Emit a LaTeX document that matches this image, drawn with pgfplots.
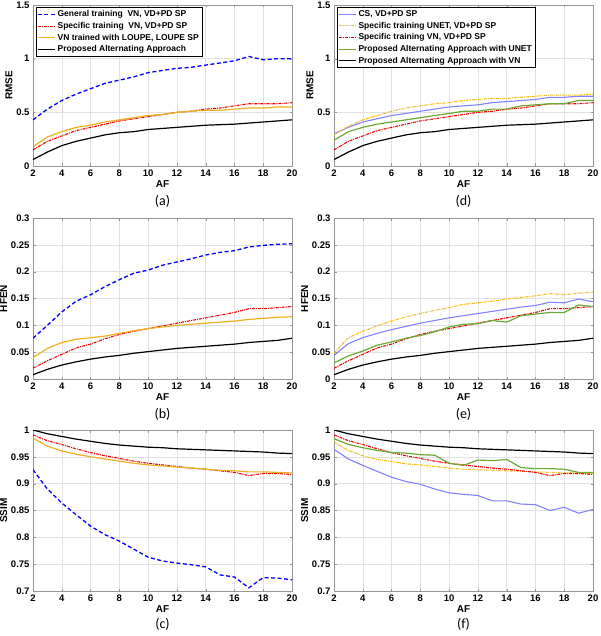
\documentclass[border=0pt]{standalone}
\usepackage{fontspec}
\setmainfont{Liberation Sans}
\newfontfamily\capfont{Carlito}
\usepackage{pgfplots}
\usepackage{pgfplotstable}
\pgfplotsset{compat=1.18}

\definecolor{cgen}{RGB}{0,0,255}
\definecolor{cspec}{RGB}{240,0,0}
\definecolor{cloupe}{RGB}{237,177,32}
\definecolor{cunet}{RGB}{240,190,40}
\definecolor{cgreen}{RGB}{110,170,50}
\definecolor{ccs}{RGB}{130,130,255}
\definecolor{cgrid}{RGB}{225,225,225}
\definecolor{cbox}{RGB}{150,150,150}

% columns: gen = general training VN, spec = specific training VN, loupe = LOUPE,
% prop = proposed (VN), cs = CS, unet = specific training UNET, propu = proposed with UNET
\pgfplotstableread{
x  gen   spec  loupe prop  cs    unet  propu
2  0.43  0.15  0.18  0.06  0.30  0.29  0.24
3  0.53  0.23  0.27  0.13  0.36  0.37  0.32
4  0.61  0.28  0.32  0.19  0.41  0.43  0.36
5  0.67  0.33  0.36  0.23  0.44  0.47  0.39
6  0.72  0.36  0.38  0.26  0.47  0.51  0.41
7  0.77  0.39  0.41  0.29  0.49  0.54  0.43
8  0.80  0.42  0.43  0.31  0.51  0.56  0.45
9  0.83  0.44  0.45  0.32  0.53  0.58  0.47
10 0.87  0.46  0.47  0.34  0.55  0.59  0.49
11 0.89  0.48  0.48  0.35  0.56  0.61  0.51
12 0.91  0.50  0.50  0.36  0.57  0.62  0.51
13 0.92  0.51  0.51  0.37  0.59  0.63  0.53
14 0.94  0.53  0.52  0.38  0.60  0.63  0.53
15 0.96  0.54  0.52  0.385 0.61  0.64  0.56
16 0.98  0.56  0.53  0.39  0.62  0.65  0.57
17 1.02  0.58  0.54  0.40  0.64  0.66  0.58
18 0.99  0.58  0.54  0.41  0.64  0.66  0.58
19 1.00  0.58  0.55  0.42  0.65  0.66  0.61
20 1.00  0.59  0.55  0.43  0.65  0.67  0.61
}\rmse

\pgfplotstableread{
x  gen   spec  loupe prop  cs    unet  propu
2  0.076 0.020 0.040 0.008 0.044 0.048 0.030
3  0.100 0.034 0.057 0.018 0.066 0.077 0.043
4  0.125 0.046 0.068 0.026 0.077 0.089 0.052
5  0.145 0.058 0.074 0.032 0.085 0.099 0.063
6  0.157 0.065 0.077 0.037 0.092 0.108 0.069
7  0.172 0.075 0.080 0.041 0.098 0.116 0.076
8  0.185 0.083 0.085 0.044 0.104 0.122 0.081
9  0.197 0.089 0.090 0.048 0.109 0.128 0.088
10 0.203 0.094 0.094 0.051 0.114 0.133 0.097
11 0.212 0.099 0.097 0.054 0.118 0.139 0.102
12 0.218 0.104 0.100 0.057 0.122 0.142 0.103
13 0.224 0.109 0.102 0.059 0.126 0.145 0.109
14 0.231 0.114 0.104 0.061 0.130 0.149 0.106
15 0.236 0.119 0.106 0.063 0.134 0.152 0.118
16 0.239 0.124 0.108 0.065 0.137 0.155 0.121
17 0.246 0.131 0.111 0.068 0.143 0.159 0.124
18 0.249 0.131 0.113 0.070 0.142 0.157 0.124
19 0.251 0.133 0.115 0.072 0.149 0.160 0.138
20 0.252 0.135 0.116 0.076 0.144 0.162 0.135
}\hfen

\pgfplotstableread{
x  gen   spec  loupe prop  cs    unet  propu
2  0.926 0.991 0.985 1.000 0.964 0.978 0.984
3  0.890 0.980 0.970 0.993 0.946 0.962 0.973
4  0.864 0.973 0.961 0.988 0.934 0.952 0.967
5  0.842 0.965 0.955 0.983 0.923 0.945 0.962
6  0.821 0.958 0.950 0.979 0.912 0.941 0.958
7  0.805 0.952 0.946 0.975 0.904 0.937 0.957
8  0.793 0.947 0.942 0.972 0.899 0.935 0.954
9  0.778 0.942 0.938 0.970 0.890 0.932 0.953
10 0.763 0.938 0.935 0.968 0.883 0.929 0.938
11 0.756 0.935 0.933 0.967 0.880 0.927 0.934
12 0.752 0.932 0.931 0.965 0.878 0.926 0.944
13 0.749 0.929 0.929 0.964 0.868 0.925 0.943
14 0.745 0.927 0.927 0.963 0.868 0.924 0.945
15 0.730 0.924 0.925 0.962 0.862 0.923 0.930
16 0.726 0.921 0.924 0.961 0.861 0.922 0.928
17 0.706 0.915 0.922 0.960 0.850 0.921 0.928
18 0.725 0.919 0.922 0.959 0.856 0.920 0.927
19 0.724 0.919 0.921 0.957 0.845 0.920 0.921
20 0.721 0.917 0.920 0.956 0.852 0.919 0.921
}\ssim

\tikzset{lab/.style={font=\capfont\fontsize{14}{15}\selectfont}}

\pgfplotsset{
  panel/.style={
    scale only axis, width=259pt, height=161pt,
    xmin=2, xmax=20, xtick={2,4,...,20},
    scaled ticks=false, clip mode=individual,
    grid=major, major grid style={cgrid, line width=0.5pt},
    axis line style={cbox}, tick style={cbox},
    major tick length=2.5pt, tick align=inside,
    /pgf/number format/assume math mode=true,
    yticklabel style={/pgf/number format/fixed, /pgf/number format/precision=2},
    ticklabel style={font=\bfseries\fontsize{9.5}{11}\selectfont},
    label style={font=\bfseries\fontsize{10}{11}\selectfont},
    xlabel={AF},
    xlabel style={yshift=3pt},
    ylabel style={yshift=-3pt},
    legend cell align=left,
    legend style={at={(0.012,0.985)}, anchor=north west,
      font=\bfseries\fontsize{8.5}{9.5}\selectfont, inner sep=1pt},
    legend image code/.code={\draw[##1] (0pt,0pt) -- (17pt,0pt);},
  },
}

\begin{document}
\begin{tikzpicture}
\useasboundingbox (0,0) rectangle (600pt,-636pt);

% (a)
\begin{axis}[panel, at={(33pt,-166pt)}, anchor=south west,
  ymin=0, ymax=1.5, ytick={0,0.5,1,1.5}, ylabel={RMSE}]
  \addplot[color=cgen, line width=1.3pt, dash pattern=on 4pt off 2.5pt] table[x=x,y=gen] {\rmse};
  \addplot[color=cspec, line width=1.1pt, dash pattern=on 3pt off 1pt on 1pt off 1pt] table[x=x,y=spec] {\rmse};
  \addplot[color=cloupe, line width=1.2pt] table[x=x,y=loupe] {\rmse};
  \addplot[color=black, line width=1.2pt] table[x=x,y=prop] {\rmse};
  \legend{{General training\ \ VN, VD+PD SP}, {Specific training\ \ VN, VD+PD SP},
    {VN trained with LOUPE, LOUPE SP}, Proposed Alternating Approach}
  \node[lab] at (rel axis cs:0.5,0) [yshift=-35pt] {(a)};
\end{axis}

% (d)
\begin{axis}[panel, at={(334pt,-166pt)}, anchor=south west,
  ymin=0, ymax=1.5, ytick={0,0.5,1,1.5}, ylabel={RMSE}]
  \addplot[color=ccs, line width=1.1pt] table[x=x,y=cs] {\rmse};
  \addplot[color=cunet, line width=1.1pt, dash pattern=on 3pt off 1pt on 1pt off 1pt] table[x=x,y=unet] {\rmse};
  \addplot[color=cspec, line width=1.1pt, dash pattern=on 3pt off 1pt on 1pt off 1pt] table[x=x,y=spec] {\rmse};
  \addplot[color=cgreen, line width=1.2pt] table[x=x,y=propu] {\rmse};
  \addplot[color=black, line width=1.2pt] table[x=x,y=prop] {\rmse};
  \legend{{CS, VD+PD SP}, {Specific training UNET, VD+PD SP}, {Specific training VN, VD+PD SP},
    Proposed Alternating Approach with UNET, Proposed Alternating Approach with VN}
  \node[lab] at (rel axis cs:0.5,0) [yshift=-35pt] {(d)};
\end{axis}

% (b)
\begin{axis}[panel, at={(33pt,-379pt)}, anchor=south west,
  ymin=0, ymax=0.3, ytick={0,0.05,0.1,0.15,0.2,0.25,0.3}, ylabel={HFEN}]
  \addplot[color=cgen, line width=1.3pt, dash pattern=on 4pt off 2.5pt] table[x=x,y=gen] {\hfen};
  \addplot[color=cspec, line width=1.1pt, dash pattern=on 3pt off 1pt on 1pt off 1pt] table[x=x,y=spec] {\hfen};
  \addplot[color=cloupe, line width=1.2pt] table[x=x,y=loupe] {\hfen};
  \addplot[color=black, line width=1.2pt] table[x=x,y=prop] {\hfen};
  \node[lab] at (rel axis cs:0.5,0) [yshift=-35pt] {(b)};
\end{axis}

% (e)
\begin{axis}[panel, at={(334pt,-379pt)}, anchor=south west,
  ymin=0, ymax=0.3, ytick={0,0.05,0.1,0.15,0.2,0.25,0.3}, ylabel={HFEN}]
  \addplot[color=ccs, line width=1.1pt] table[x=x,y=cs] {\hfen};
  \addplot[color=cunet, line width=1.1pt, dash pattern=on 3pt off 1pt on 1pt off 1pt] table[x=x,y=unet] {\hfen};
  \addplot[color=cspec, line width=1.1pt, dash pattern=on 3pt off 1pt on 1pt off 1pt] table[x=x,y=spec] {\hfen};
  \addplot[color=cgreen, line width=1.2pt] table[x=x,y=propu] {\hfen};
  \addplot[color=black, line width=1.2pt] table[x=x,y=prop] {\hfen};
  \node[lab] at (rel axis cs:0.5,0) [yshift=-35pt] {(e)};
\end{axis}

% (c)
\begin{axis}[panel, at={(33pt,-591pt)}, anchor=south west,
  ymin=0.7, ymax=1, ytick={0.7,0.75,0.8,0.85,0.9,0.95,1}, ylabel={SSIM}]
  \addplot[color=cgen, line width=1.3pt, dash pattern=on 4pt off 2.5pt] table[x=x,y=gen] {\ssim};
  \addplot[color=cspec, line width=1.1pt, dash pattern=on 3pt off 1pt on 1pt off 1pt] table[x=x,y=spec] {\ssim};
  \addplot[color=cloupe, line width=1.2pt] table[x=x,y=loupe] {\ssim};
  \addplot[color=black, line width=1.2pt] table[x=x,y=prop] {\ssim};
  \node[lab] at (rel axis cs:0.5,0) [yshift=-33pt] {(c)};
\end{axis}

% (f)
\begin{axis}[panel, at={(334pt,-591pt)}, anchor=south west,
  ymin=0.7, ymax=1, ytick={0.7,0.75,0.8,0.85,0.9,0.95,1}, ylabel={SSIM}]
  \addplot[color=ccs, line width=1.1pt] table[x=x,y=cs] {\ssim};
  \addplot[color=cunet, line width=1.1pt, dash pattern=on 3pt off 1pt on 1pt off 1pt] table[x=x,y=unet] {\ssim};
  \addplot[color=cspec, line width=1.1pt, dash pattern=on 3pt off 1pt on 1pt off 1pt] table[x=x,y=spec] {\ssim};
  \addplot[color=cgreen, line width=1.2pt] table[x=x,y=propu] {\ssim};
  \addplot[color=black, line width=1.2pt] table[x=x,y=prop] {\ssim};
  \node[lab] at (rel axis cs:0.5,0) [yshift=-33pt] {(f)};
\end{axis}
\end{tikzpicture}
\end{document}
